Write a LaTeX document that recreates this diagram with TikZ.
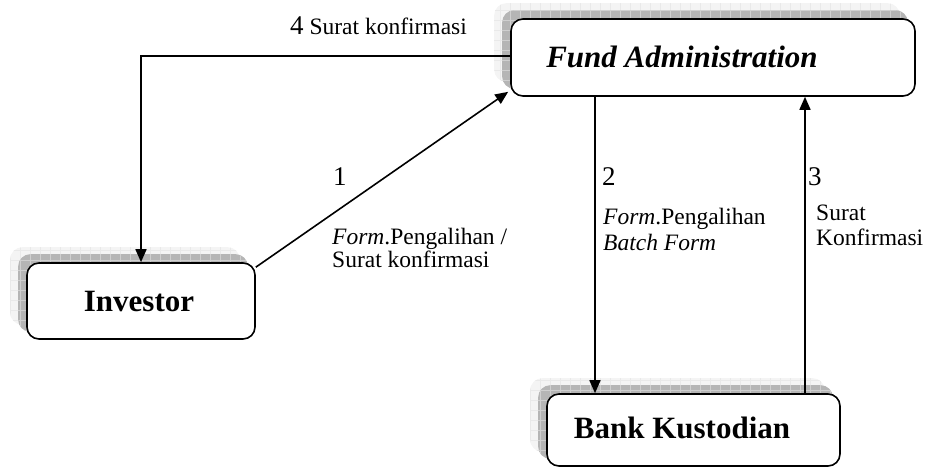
\documentclass[tikz,border=0pt]{standalone}
\usepackage{fontspec}
\setmainfont{Liberation Serif}
\usetikzlibrary{arrows.meta,calc,backgrounds}
\newcommand\dropshade[1]{%
  \fill[gray!9, rounded corners=12pt] ($(#1.north west)+(-16,-15)$) rectangle ($(#1.south east)+(-16,-15)$);
  \begin{scope}
    \clip[rounded corners=12pt] ($(#1.north west)+(-16,-15)$) rectangle ($(#1.south east)+(-16,-15)$);
    \draw[gray!17, line width=0.5pt, step=10pt] ($(#1.north west)+(-20,-20)$) grid ($(#1.south east)+(0,0)$);
  \end{scope}
  \begin{scope}
    \clip[rounded corners=12pt] ($(#1.north west)+(-8,-8)$) rectangle ($(#1.south east)+(-8,-8)$);
    \fill[gray!58] ($(#1.north west)+(-10,-10)$) rectangle ($(#1.south east)+(0,0)$);
    \draw[gray!38, line width=0.6pt, step=10pt] ($(#1.north west)+(-20,-20)$) grid ($(#1.south east)+(0,0)$);
  \end{scope}}
\begin{document}
\begin{tikzpicture}[x=1pt,y=-1pt,
  box/.style={draw=black, line width=1.6pt, rounded corners=12pt, fill=white, inner sep=0pt},
  boxtext/.style={font=\fontsize{31}{35}\selectfont\bfseries, inner sep=0pt},
  lbl/.style={font=\fontsize{23.5}{27}\selectfont, anchor=base west, inner sep=0pt},
  num/.style={font=\fontsize{27}{30}\selectfont, anchor=base west, inner sep=0pt},
  arr/.style={line width=1.6pt, -{Triangle[length=13pt,width=11pt]}}]
\useasboundingbox (0,0) rectangle (927,469);
% boxes
\node[box, minimum width=404pt, minimum height=77pt] (fa) at (713,57.5) {};
\node[box, minimum width=228pt, minimum height=76pt] (inv) at (141,301) {};
\node[box, minimum width=293pt, minimum height=72pt] (bank) at (693.5,430) {};
\begin{scope}[on background layer]
  \dropshade{fa}
  \dropshade{inv}
  \dropshade{bank}
\end{scope}
\node[boxtext, font=\fontsize{31}{35}\selectfont\bfseries\itshape] (fat) at (682,57) {Fund Administration};
\node[boxtext] (invt) at (139,301) {Investor};
\node[boxtext] (bankt) at (682,428) {Bank Kustodian};
% connector coordinates
\coordinate (c4) at (141,56);
\coordinate (x2) at (595,0);
\coordinate (x3) at (805,0);
% arrows
\draw[arr] (fa.west |- c4) -- (c4) -- (inv.north -| c4);
\draw[arr] ($(inv.north east)+(0,5)$) -- ($(fa.south west)+(-2,-5)$);
\draw[arr] (fa.south -| x2) -- (bank.north -| x2);
\draw[arr] (bank.north -| x3) -- (fa.south -| x3);
% labels
\node[lbl] (l4) at (290,34) {{\fontsize{27}{30}\selectfont 4} Surat konfirmasi};
\node[num] (n1) at (333,185) {1};
\node[lbl] (l1a) at (332,244) {\textit{Form}.Pengalihan /};
\node[lbl] (l1b) at (332,267) {Surat konfirmasi};
\node[num] (n2) at (602,185) {2};
\node[lbl] (l2a) at (603,224) {\textit{Form}.Pengalihan};
\node[lbl] (l2b) at (603,250) {\textit{Batch Form}};
\node[num] (n3) at (808,185) {3};
\node[lbl] (l3a) at (816,220) {Surat};
\node[lbl] (l3b) at (816,245) {Konfirmasi};
\end{tikzpicture}
\end{document}
